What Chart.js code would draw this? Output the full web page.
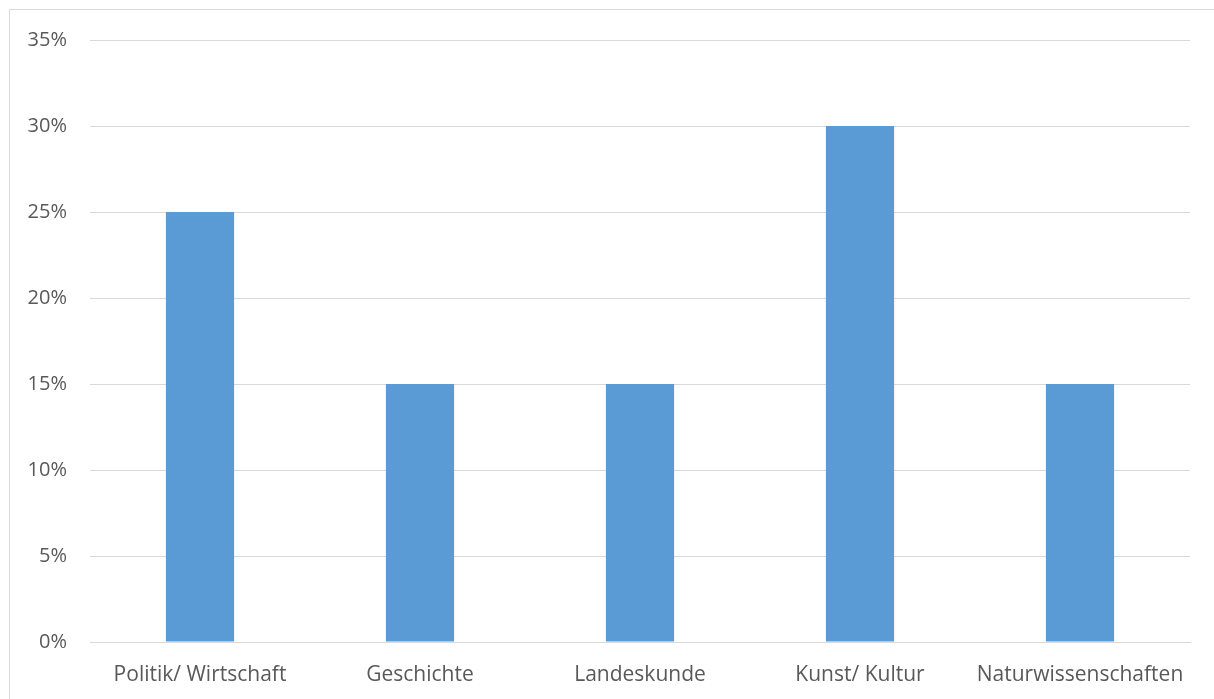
<!DOCTYPE html>
<html>
<head>
<meta charset="utf-8">
<script src="https://cdn.jsdelivr.net/npm/chart.js@4"></script>
<style>
  html, body { margin: 0; padding: 0; background: #fff; overflow: hidden; }
  #frame {
    position: absolute; left: 9px; top: 9px; width: 1300px; height: 800px;
    border-top: 1px solid #d9d9d9; border-left: 1px solid #d9d9d9;
  }
  #wrap { position: absolute; left: 0; top: 0; width: 1214px; height: 699px; }
</style>
</head>
<body>
<div id="frame"></div>
<div id="wrap"><canvas id="themen"></canvas></div>
<script>
const categories = ["Politik/ Wirtschaft", "Geschichte", "Landeskunde", "Kunst/ Kultur", "Naturwissenschaften"];
const shares = [25, 15, 15, 30, 15];
const yTicks = [0, 5, 10, 15, 20, 25, 30, 35];

const gridColor = "#d9d9d9";
const textColor = "#595959";
const fontFamily = "'Open Sans', 'Liberation Sans', sans-serif";

new Chart(document.getElementById("themen"), {
  type: "bar",
  data: {
    labels: categories,
    datasets: [{
      data: shares,
      backgroundColor: "#5b9bd5",
      borderWidth: 0,
      categoryPercentage: 1,
      barPercentage: 0.31
    }]
  },
  options: {
    responsive: true,
    maintainAspectRatio: false,
    animation: false,
    layout: { padding: { left: 20, right: 24, top: 40, bottom: 0 } },
    plugins: { legend: { display: false }, tooltip: { enabled: false } },
    scales: {
      x: {
        grid: { display: false, drawTicks: false },
        border: { display: true, color: gridColor, width: 1 },
        ticks: { color: textColor, font: { family: fontFamily, size: 21 }, padding: 20, maxRotation: 0 },
        afterFit: s => { s.height = 57; }
      },
      y: {
        min: 0,
        max: 35,
        afterBuildTicks: s => { s.ticks = yTicks.map(v => ({ value: v })); },
        grid: { color: gridColor, lineWidth: 1, drawTicks: false },
        border: { display: false },
        ticks: {
          color: textColor,
          font: { family: fontFamily, size: 20 },
          padding: 23,
          callback: v => v + "%"
        },
        afterFit: s => { s.width = 70; }
      }
    }
  }
});
</script>
</body>
</html>
